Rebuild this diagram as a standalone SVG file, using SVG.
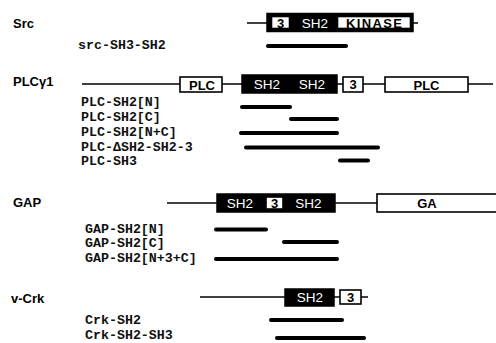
<svg xmlns="http://www.w3.org/2000/svg" width="496" height="343" viewBox="0 0 496 343">
<style>
.title{font-family:"Liberation Sans",Arial,sans-serif;font-weight:bold;font-size:13px;fill:#000}
.lbl{font-family:"Liberation Mono","DejaVu Sans Mono",monospace;font-weight:bold;font-size:13.3px;fill:#111}
.ln{stroke:#000;stroke-width:1.6;fill:none}
.blk{fill:#000;stroke:#000;stroke-width:1.5}
.wht{fill:#fff;stroke:#000;stroke-width:1.6}
.wt{font-family:"Liberation Sans",Arial,sans-serif;font-size:13.5px;fill:#fff;text-anchor:middle}
.bt{font-family:"Liberation Sans",Arial,sans-serif;font-weight:bold;font-size:13px;fill:#000;text-anchor:middle}
.bar{stroke:#000;stroke-width:4;stroke-linecap:round}
</style>
<g id="connectors">
<line class="ln" x1="247" y1="23" x2="418" y2="23"/>
<line class="ln" x1="82" y1="84" x2="493" y2="84"/>
<line class="ln" x1="167" y1="203" x2="377" y2="203"/>
<line class="ln" x1="200" y1="297" x2="368" y2="297"/>
</g>
<g id="src">
<text class="title" x="13" y="28">Src</text>
<rect class="blk" x="267" y="13.5" width="146" height="18"/>
<rect class="wht" x="271.5" y="16.5" width="18" height="12" stroke-width="1"/>
<text class="bt" x="280.5" y="27.5" font-size="12">3</text>
<text class="wt" x="315" y="27.5">SH2</text>
<rect class="wht" x="337.5" y="16.5" width="73" height="12" stroke-width="1"/>
<text class="bt" x="374" y="27.5" font-weight="normal" textLength="56">KINASE</text>
<text class="lbl" x="78" y="49">src-SH3-SH2</text>
<line class="bar" x1="268" y1="46" x2="346" y2="46"/>
</g>
<g id="plc">
<text class="title" x="13" y="86">PLCγ1</text>
<rect class="wht" x="180" y="77" width="42" height="15"/>
<text class="bt" x="202" y="89.5">PLC</text>
<rect class="blk" x="242" y="75" width="95" height="18"/>
<text class="wt" x="267" y="89">SH2</text>
<text class="wt" x="312" y="89">SH2</text>
<rect class="wht" x="343" y="77" width="20" height="15"/>
<text class="bt" x="353" y="89" font-size="12">3</text>
<rect class="wht" x="385" y="77" width="83" height="15"/>
<text class="bt" x="426.5" y="89.5">PLC</text>
<text class="lbl" x="81" y="106">PLC-SH2[N]</text>
<text class="lbl" x="81" y="121">PLC-SH2[C]</text>
<text class="lbl" x="81" y="136">PLC-SH2[N+C]</text>
<text class="lbl" x="81" y="151">PLC-ΔSH2-SH2-3</text>
<text class="lbl" x="81" y="165">PLC-SH3</text>
<line class="bar" x1="242" y1="107" x2="290" y2="107"/>
<line class="bar" x1="291" y1="119" x2="337" y2="119"/>
<line class="bar" x1="241" y1="133" x2="337" y2="133"/>
<line class="bar" x1="246" y1="147.5" x2="378" y2="147.5"/>
<line class="bar" x1="340" y1="160.5" x2="368" y2="160.5"/>
</g>
<g id="gap">
<text class="title" x="13" y="207">GAP</text>
<rect class="blk" x="217" y="194" width="118" height="18"/>
<text class="wt" x="240" y="208">SH2</text>
<rect class="wht" x="266" y="197" width="17" height="12" stroke-width="1"/>
<text class="bt" x="274.5" y="207.5" font-size="12">3</text>
<text class="wt" x="308.5" y="208">SH2</text>
<rect class="wht" x="377" y="194" width="125" height="18"/>
<text class="bt" x="427" y="208" font-size="14">GA</text>
<text class="lbl" x="85" y="233">GAP-SH2[N]</text>
<text class="lbl" x="85" y="247">GAP-SH2[C]</text>
<text class="lbl" x="85" y="262">GAP-SH2[N+3+C]</text>
<line class="bar" x1="216" y1="229.5" x2="266" y2="229.5"/>
<line class="bar" x1="284" y1="242" x2="337" y2="242"/>
<line class="bar" x1="216" y1="259" x2="337" y2="259"/>
</g>
<g id="vcrk">
<text class="title" x="11" y="303">v-Crk</text>
<rect class="blk" x="285" y="289" width="49" height="17"/>
<text class="wt" x="310" y="302">SH2</text>
<rect class="wht" x="340" y="290" width="21" height="14"/>
<text class="bt" x="350.5" y="301.5" font-size="12">3</text>
<text class="lbl" x="85" y="324">Crk-SH2</text>
<text class="lbl" x="85" y="338.5">Crk-SH2-SH3</text>
<line class="bar" x1="271" y1="320" x2="342" y2="320"/>
<line class="bar" x1="277" y1="338" x2="364" y2="338"/>
</g>
</svg>
